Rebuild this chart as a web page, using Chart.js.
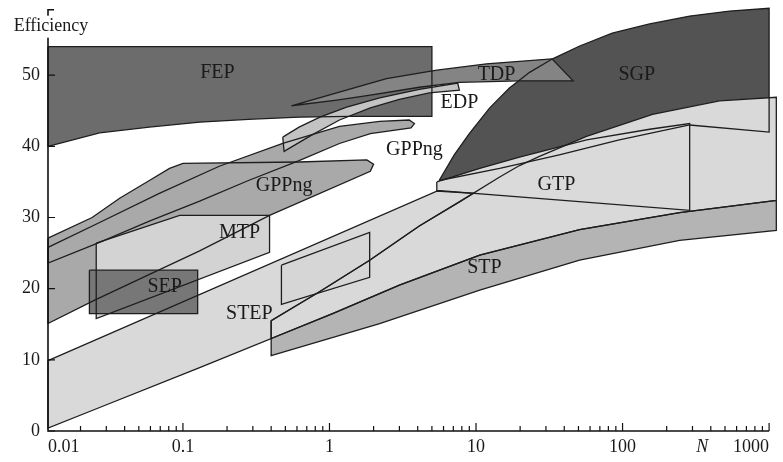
<!DOCTYPE html>
<html>
<head>
<meta charset="utf-8">
<script src="https://cdn.jsdelivr.net/npm/chart.js@4/dist/chart.umd.min.js"></script>
<style>
  html, body { margin: 0; padding: 0; background: #fff; }
  #wrap { width: 783px; height: 462px; }
</style>
</head>
<body>
<div id="wrap"><canvas id="chart" width="783" height="462"></canvas></div>
<script>
// Power range N (x, log) and efficiency (y) outlines for each plant type
const fepN   = [0.012, 5, 5, 1.37, 0.62, 0.28, 0.13, 0.059, 0.027, 0.012];
const fepEff = [54, 54, 44.2, 44.2, 44.1, 43.8, 43.4, 42.7, 41.9, 40];

const sgpN   = [5.6, 7.1, 9, 12.4, 16.9, 23.2, 33.3, 51, 85, 153, 287, 537, 1000, 1000, 287, 95, 37, 14.5];
const sgpEff = [35.2, 38.8, 41.8, 45.4, 48.2, 50.4, 52.3, 54.1, 55.9, 57.2, 58.3, 59, 59.4, 42, 43, 40.9, 38.8, 36.9];

const stpWideN   = [0.40, 0.86, 1.88, 4.1, 7.7, 14.5, 19.8, 27.1, 56.8, 160, 459, 1120, 1120, 245, 50.9, 10.6, 3.0, 1.05, 0.40];
const stpWideEff = [15.5, 19.6, 24.0, 28.8, 32.2, 35.7, 37.3, 38.6, 41.4, 44.5, 46.4, 46.9, 32.4, 30.7, 28.3, 24.7, 20.5, 16.5, 13.0];

const gtpN   = [5.4, 10.6, 19.8, 56.8, 153, 287, 287, 5.4];
const gtpEff = [35.0, 36.9, 38.5, 40.9, 42.4, 43.2, 31.0, 33.8];

const stpN   = [0.40, 1.05, 3.0, 10.6, 50.9, 245, 1120, 1120, 245, 50.9, 10.6, 2.2, 0.40];
const stpEff = [13.0, 16.5, 20.5, 24.7, 28.3, 30.7, 32.4, 28.2, 26.8, 24.0, 19.8, 15.1, 10.6];

const stepN   = [0.012, 5.4, 9.6, 7.7, 4.1, 1.88, 0.86, 0.40, 0.40, 0.13, 0.027, 0.012];
const stepEff = [9.9, 33.7, 33.4, 32.2, 28.8, 24.0, 19.6, 15.5, 13.0, 8.9, 3.3, 0.4];

const gtpSmallN   = [0.47, 1.88, 1.88, 0.47];
const gtpSmallEff = [23.3, 27.9, 21.6, 17.8];

const gppLowN   = [0.012, 0.024, 0.037, 0.059, 0.081, 0.10, 0.62, 1.8, 2.0, 1.9, 0.39, 0.13, 0.05, 0.025, 0.012];
const gppLowEff = [27.1, 30.0, 32.7, 35.2, 36.9, 37.6, 37.8, 38.1, 37.5, 36.5, 30.3, 25.3, 21.3, 18.4, 15.1];

const gppHighN   = [0.012, 0.027, 0.069, 0.177, 0.48, 1.17, 2.2, 3.5, 3.8, 3.6, 1.9, 1.17, 0.62, 0.28, 0.13, 0.059, 0.027, 0.012];
const gppHighEff = [25.8, 29.3, 33.4, 37.2, 40.4, 42.8, 43.5, 43.7, 43.2, 42.6, 41.8, 40.4, 38.0, 35.2, 32.3, 29.5, 26.5, 23.6];

const mtpN   = [0.0256, 0.095, 0.39, 0.39, 0.0256];
const mtpEff = [26.4, 30.3, 30.3, 25.1, 15.8];

const sepN   = [0.023, 0.126, 0.126, 0.023];
const sepEff = [22.6, 22.6, 16.5, 16.5];

const edpN   = [0.48, 0.62, 0.86, 1.31, 2.2, 4.1, 7.5, 7.7, 4.8, 3.0, 1.9, 1.17, 0.73, 0.49];
const edpEff = [41.3, 42.7, 44.1, 45.5, 46.8, 48.0, 48.9, 47.9, 47.5, 46.6, 45.4, 43.7, 41.4, 39.3];

const tdpN   = [0.55, 1.12, 2.45, 5.4, 11.8, 33, 46, 20, 7.7, 4.1, 1.9, 1.12];
const tdpEff = [45.7, 47.5, 49.5, 50.7, 51.6, 52.3, 49.2, 49.2, 49.0, 48.3, 47.2, 46.5];

// region names and where they are written
const labelText = ['FEP', 'TDP', 'SGP', 'EDP', 'GPPng', 'GPPng', 'MTP', 'SEP', 'STEP', 'GTP', 'STP'];
const labelN    = [0.172, 13.8, 125, 7.7, 3.8, 0.49, 0.243, 0.075, 0.284, 35.4, 11.4];
const labelEff  = [50.3, 50.0, 50.0, 46.1, 39.5, 34.5, 27.9, 20.2, 16.5, 34.6, 22.9];

// axes
const xMin = 0.012;
const xTickVals  = [0.012, 0.1, 1, 10, 100, 350, 1000];
const xTickText  = ['0.01', '0.1', '1', '10', '100', 'N', '1000'];
const yTickVals  = [0, 10, 20, 30, 40, 50];
const yAxisTop   = 59.2;

const serif = '"Liberation Serif", "DejaVu Serif", serif';

// back to front
const layers = [
  { name: 'FEP',   n: fepN,      eff: fepEff,      color: '#6c6c6c' },
  { name: 'SGP',   n: sgpN,      eff: sgpEff,      color: '#535353' },
  { name: 'STP+',  n: stpWideN,  eff: stpWideEff,  color: '#d9d9d9' },
  { name: 'GTP',   n: gtpN,      eff: gtpEff,      color: '#dadada' },
  { name: 'STP',   n: stpN,      eff: stpEff,      color: '#b4b4b4' },
  { name: 'STEP',  n: stepN,     eff: stepEff,     color: '#d9d9d9' },
  { name: 'GTPs',  n: gtpSmallN, eff: gtpSmallEff, color: '#d6d6d6' },
  { name: 'GPPng', n: gppLowN,   eff: gppLowEff,   color: '#a9a9a9' },
  { name: 'GPPng2',n: gppHighN,  eff: gppHighEff,  color: '#a9a9a9' },
  { name: 'MTP',   n: mtpN,      eff: mtpEff,      color: '#d3d3d3' },
  { name: 'SEP',   n: sepN,      eff: sepEff,      color: '#777777' },
  { name: 'EDP',   n: edpN,      eff: edpEff,      color: '#c3c3c3' },
  { name: 'TDP',   n: tdpN,      eff: tdpEff,      color: '#848484' }
];

function toPoints(n, eff) {
  return n.map((v, i) => ({ x: v, y: eff[i] }));
}

const fillSets = layers.map((r, i) => ({
  label: r.name,
  data: toPoints(r.n, r.eff),
  fill: 'shape',
  backgroundColor: r.color,
  borderWidth: 0,
  pointRadius: 0,
  tension: 0,
  clip: false,
  order: 100 - i
}));

const outlineSets = layers.map(r => {
  const pts = toPoints(r.n, r.eff);
  return {
    label: r.name + ' edge',
    data: pts.concat([pts[0]]),
    fill: false,
    borderColor: '#1e1e1e',
    borderWidth: 1.3,
    pointRadius: 0,
    tension: 0,
    clip: false,
    order: 0
  };
});

const decor = {
  id: 'decor',
  afterDatasetsDraw(chart) {
    const { ctx, scales: { x, y } } = chart;
    const x0 = x.getPixelForValue(xMin);
    const x1 = x.getPixelForValue(1000);
    const y0 = y.getPixelForValue(0);
    const yTop = y.getPixelForValue(yAxisTop);
    ctx.save();

    // axis lines
    ctx.strokeStyle = '#111';
    ctx.lineWidth = 1.6;
    ctx.beginPath();
    ctx.moveTo(x1, y0);
    ctx.lineTo(x0, y0);
    ctx.lineTo(x0, yTop);
    ctx.lineTo(x0 + 6, yTop);
    ctx.stroke();

    // x ticks, pointing up
    ctx.lineWidth = 1.2;
    ctx.beginPath();
    [0.01, 0.1, 1, 10, 100, 1000].forEach(d => {
      for (let m = 1; m <= 9; m++) {
        const v = d * m;
        if (v < xMin || v > 1000) continue;
        const px = x.getPixelForValue(v);
        ctx.moveTo(px, y0);
        ctx.lineTo(px, y0 - (m === 1 ? 8 : 5));
      }
    });
    // y ticks, pointing right
    yTickVals.forEach(v => {
      const py = y.getPixelForValue(v);
      ctx.moveTo(x0, py);
      ctx.lineTo(x0 + 7, py);
    });
    ctx.stroke();

    // region names
    ctx.fillStyle = '#1a1a1a';
    ctx.font = '20px ' + serif;
    ctx.textAlign = 'center';
    ctx.textBaseline = 'middle';
    labelText.forEach((t, i) => {
      ctx.fillText(t, x.getPixelForValue(labelN[i]), y.getPixelForValue(labelEff[i]));
    });

    // y axis name, breaking the axis line
    ctx.font = '18px ' + serif;
    const title = 'Efficiency';
    const w = ctx.measureText(title).width;
    const ty = yTop + 17;
    ctx.fillStyle = '#fff';
    ctx.fillRect(x0 - w / 2, ty - 11, w + 6, 22);
    ctx.fillStyle = '#1a1a1a';
    ctx.fillText(title, x0 + 3, ty);

    ctx.restore();
  }
};

new Chart(document.getElementById('chart'), {
  type: 'line',
  data: { datasets: fillSets.concat(outlineSets) },
  options: {
    responsive: false,
    animation: false,
    devicePixelRatio: 1,
    layout: { padding: { top: 4, right: 5, left: 0, bottom: 0 } },
    plugins: {
      legend: { display: false },
      tooltip: { enabled: false }
    },
    scales: {
      x: {
        type: 'logarithmic',
        min: xMin,
        max: 1150,
        grid: { display: false, drawTicks: false },
        border: { display: false },
        afterBuildTicks: (scale) => {
          scale.ticks = xTickVals.map(v => ({ value: v }));
        },
        afterFit: (scale) => {
          scale.height = 31;
          scale.paddingLeft = 0;
          scale.paddingRight = 0;
        },
        ticks: {
          autoSkip: false,
          maxRotation: 0,
          align: 'inner',
          padding: 5,
          color: '#1a1a1a',
          callback: (value, index) => xTickText[index],
          font: (ctx) => ({
            family: serif,
            size: 18,
            style: ctx.tick && ctx.tick.label === 'N' ? 'italic' : 'normal'
          })
        }
      },
      y: {
        min: 0,
        max: 60,
        grid: { display: false, drawTicks: false },
        border: { display: false },
        afterBuildTicks: (scale) => {
          scale.ticks = yTickVals.map(v => ({ value: v }));
        },
        afterFit: (scale) => {
          scale.width = 48;
          scale.paddingTop = 0;
          scale.paddingBottom = 0;
        },
        ticks: {
          padding: 8,
          color: '#1a1a1a',
          font: { family: serif, size: 18 }
        }
      }
    }
  },
  plugins: [decor]
});
</script>
</body>
</html>
